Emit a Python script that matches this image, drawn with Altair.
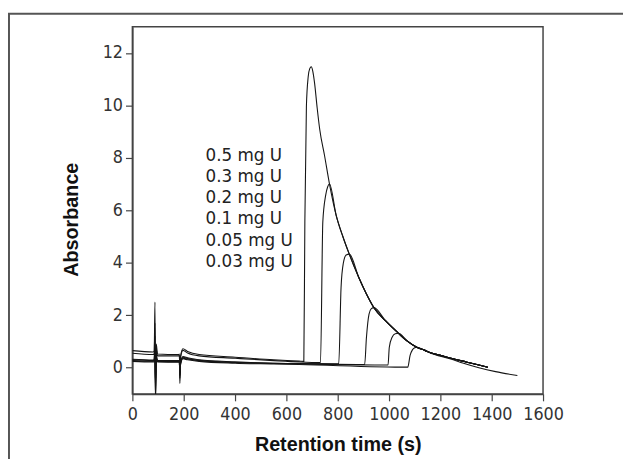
import altair as alt
import pandas as pd

# ---- data ----
trace_names = ["0.5 mg U", "0.3 mg U", "0.2 mg U", "0.1 mg U", "0.05 mg U", "0.03 mg U"]

# shared baseline sample times (s)
base_t = [0, 80, 85, 88, 90, 93, 98, 180, 183, 185, 188, 197, 215, 260, 400, 550, 650]

base_05 = [0.65, 0.60, 0.62, 2.50, -1.30, 0.90, 0.52, 0.50, 0.52, -0.20, 0.45, 0.72, 0.62, 0.50, 0.40, 0.30, 0.25]
base_03 = [0.55, 0.50, 0.52, 1.70, -0.90, 0.70, 0.45, 0.45, 0.47, -0.10, 0.40, 0.66, 0.56, 0.45, 0.36, 0.27, 0.22]
base_02 = [0.32, 0.29, 0.30, 1.20, -1.10, 0.50, 0.28, 0.27, 0.28, -0.60, 0.20, 0.42, 0.38, 0.30, 0.22, 0.17, 0.16]
base_01 = [0.27, 0.25, 0.26, 0.90, -1.30, 0.40, 0.24, 0.23, 0.24, -0.40, 0.15, 0.36, 0.33, 0.27, 0.20, 0.16, 0.15]
base_005 = [0.30, 0.27, 0.28, 0.70, -0.60, 0.35, 0.26, 0.25, 0.26, -0.30, 0.20, 0.40, 0.35, 0.28, 0.20, 0.17, 0.15]
base_003 = [0.24, 0.22, 0.23, 0.60, -0.50, 0.30, 0.22, 0.21, 0.22, -0.25, 0.15, 0.34, 0.30, 0.24, 0.17, 0.14, 0.12]

# rising edges (time, absorbance)
rise_05_t = [668, 672, 678, 685, 691]
rise_05_a = [0.24, 5.56, 9.96, 11.09, 11.40]
rise_03_t = [733, 742, 753, 761]
rise_03_a = [0.20, 5.56, 6.57, 6.90]
rise_02_t = [804, 813, 822, 833]
rise_02_a = [0.15, 3.05, 3.99, 4.30]
rise_01_t = [905, 912, 922, 931]
rise_01_a = [0.12, 1.16, 2.04, 2.25]
rise_005_t = [996, 1001, 1012, 1024]
rise_005_a = [0.10, 0.78, 1.16, 1.29]
rise_003_t = [1073, 1082, 1091, 1100]
rise_003_a = [0.02, 0.47, 0.68, 0.76]

# common decay envelope
env_t = [697, 703, 710, 720, 730, 749, 768, 794, 820, 845, 883, 910, 941, 986, 1037, 1070,
         1108, 1140, 1165, 1200, 1250, 1300, 1350, 1385]
env_a = [11.47, 11.30, 10.84, 9.90, 9.08, 8.07, 7.00, 5.81, 5.00, 4.33, 3.42, 2.85, 2.29, 1.79,
         1.31, 1.02, 0.78, 0.66, 0.56, 0.47, 0.34, 0.22, 0.10, 0.02]
# tail of the 0.03 mg U trace
tail_003_t = [1108, 1140, 1165, 1200, 1250, 1287, 1350, 1415, 1500]
tail_003_a = [0.78, 0.65, 0.54, 0.44, 0.30, 0.18, 0.00, -0.15, -0.30]

# first envelope time used by each trace (its peak)
peak_t = [697, 768, 845, 941, 1037, None]

x_ticks = [0, 200, 400, 600, 800, 1000, 1200, 1400, 1600]
y_ticks = [0, 2, 4, 6, 8, 10, 12]

# label annotation placement
label_t = 285
label_y = [8.08, 7.25, 6.45, 5.66, 4.83, 4.04]

# ---- build table ----
bases = [base_05, base_03, base_02, base_01, base_005, base_003]
rises = [(rise_05_t, rise_05_a), (rise_03_t, rise_03_a), (rise_02_t, rise_02_a),
         (rise_01_t, rise_01_a), (rise_005_t, rise_005_a), (rise_003_t, rise_003_a)]
rows = []
for k, name in enumerate(trace_names):
    ts = list(base_t) + list(rises[k][0])
    vs = list(bases[k]) + list(rises[k][1])
    if peak_t[k] is None:
        ts += tail_003_t
        vs += tail_003_a
    else:
        for t, a in zip(env_t, env_a):
            if t >= peak_t[k]:
                ts.append(t)
                vs.append(a)
    for i, (t, a) in enumerate(zip(ts, vs)):
        rows.append({"trace": name, "i": i, "t": t, "a": a})
df = pd.DataFrame(rows)

lab_df = pd.DataFrame({"label": trace_names, "t": [label_t] * 6, "a": label_y})

x_enc = alt.X("t:Q", scale=alt.Scale(domain=[0, 1600], nice=False, zero=False),
              axis=alt.Axis(values=x_ticks, title="Retention time (s)", labelPadding=5,
                            labelOverlap=False, labelFlush=False,
                            titleY=57, titleBaseline="alphabetic", format="d"))
y_enc = alt.Y("a:Q", scale=alt.Scale(domain=[-1, 13], nice=False, zero=False),
              axis=alt.Axis(values=y_ticks, title="Absorbance", labelPadding=3,
                            labelOverlap=False, labelFlush=False,
                            titleX=-56, titleY=195, titleBaseline="alphabetic", format="d"))

lines = alt.Chart(df).mark_line(clip=True, strokeWidth=1.1, color="#151515",
                                interpolate="monotone").encode(
    x=x_enc, y=y_enc, detail="trace:N", order="i:Q"
)

labels = alt.Chart(lab_df).mark_text(
    align="left", baseline="middle", font="DejaVu Sans", fontSize=17, color="#222"
).encode(x=x_enc, y=y_enc, text="label:N")

frame_src = alt.Data(values=[{"k": 1}])
frame_left = alt.Chart(frame_src).mark_rule(color="#555", strokeWidth=2).encode(
    x=alt.value(-125), y=alt.value(-13), y2=alt.value(440)
)
frame_top = alt.Chart(frame_src).mark_rule(color="#555", strokeWidth=2).encode(
    x=alt.value(-126), x2=alt.value(505), y=alt.value(-13)
)

chart = alt.layer(lines, labels, frame_left, frame_top).properties(
    width=416, height=372,
    autosize=alt.AutoSizeParams(type="none"),
    padding={"left": 126, "top": 16, "right": 81, "bottom": 63},
).configure_view(
    stroke="#444", strokeWidth=1.5
).configure_axis(
    grid=False, domainColor="#444", domainWidth=1.5, tickColor="#444", tickSize=7,
    tickWidth=1.2, labelFont="DejaVu Sans Condensed", labelFontSize=18, labelColor="#333",
    titleFont="Liberation Sans", titleFontWeight="bold", titleFontSize=20, titleColor="#111"
)

chart.save("out.html", embed_options={"renderer": "svg", "actions": False})
